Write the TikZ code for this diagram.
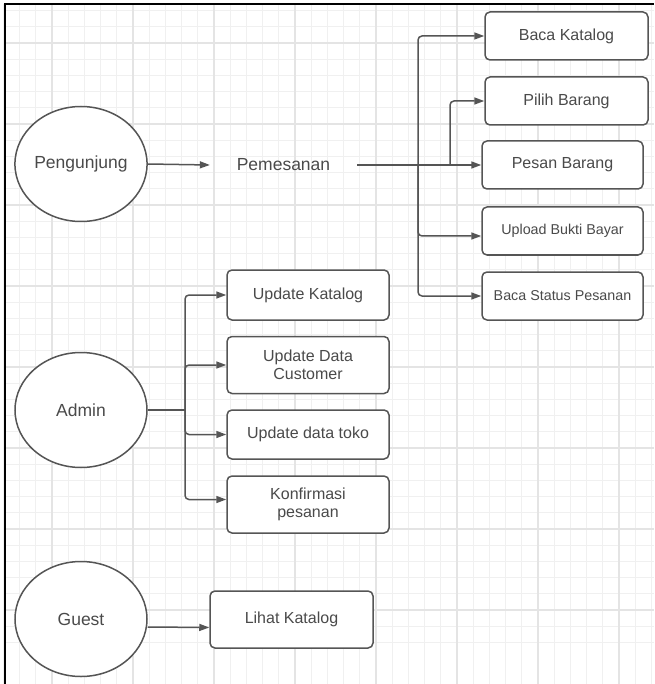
\documentclass[tikz,border=0pt]{standalone}
\usepackage{fontspec}
\setmainfont{Liberation Sans}
\usetikzlibrary{arrows.meta,shapes.geometric}
\definecolor{gridminor}{HTML}{F0F0F0}
\definecolor{gridmajor}{HTML}{E4E4E4}
\definecolor{linegray}{HTML}{555555}
\definecolor{textgray}{HTML}{4A4A4A}
\tikzset{
  actor/.style={ellipse, draw=linegray, line width=1.5pt, fill=white, minimum width=132pt, minimum height=115pt, inner sep=0pt, text=textgray, font=\fontsize{17.5}{20}\selectfont},
  procbox/.style={draw=linegray, line width=1.5pt, rounded corners=5pt, fill=white, inner sep=0pt, text=textgray, align=center, font=\fontsize{16}{18.5}\selectfont},
  smalltext/.style={font=\fontsize{14.3}{17}\selectfont},
  conn/.style={draw=linegray, line width=1.5pt, rounded corners=4pt},
  arr/.style={conn, -{Triangle[length=10pt,width=7pt]}},
}
\begin{document}
\begin{tikzpicture}[x=1pt,y=-1pt]
\useasboundingbox (0,0) rectangle (654,684);
\fill[white] (0,0) rectangle (654,684);
% grid
\foreach \k in {-3,...,37} {
  \draw[gridminor, line width=1pt] ({52+16.2*\k},4) -- ({52+16.2*\k},684);
  \draw[gridminor, line width=1pt] (5,{43+16.2*\k}) -- (654,{43+16.2*\k});
}
\foreach \k in {0,...,7} {
  \draw[gridmajor, line width=1.3pt] ({52+81*\k},4) -- ({52+81*\k},684);
  \draw[gridmajor, line width=1.3pt] (5,{43+81*\k}) -- (654,{43+81*\k});
}
% frame (top and left)
\draw[black, line width=2pt] (5,684) -- (5,4) -- (654,4);

% actors
\node[actor] (peng) at (81,164) {Pengunjung};
\node[actor] (admin) at (81,410) {Admin};
\node[actor] (guest) at (81,619) {Guest};

% Pemesanan
\node[text=textgray, font=\fontsize{17.5}{20}\selectfont, minimum width=147pt, inner sep=0pt] (pem) at (283.5,165) {Pemesanan};

% right column boxes
\node[procbox, minimum width=163pt, minimum height=48pt] (baca) at (566.5,36) {Baca Katalog};
\node[procbox, minimum width=163pt, minimum height=48pt] (pilih) at (566.5,101) {Pilih Barang};
\node[procbox, minimum width=161pt, minimum height=48pt] (pesan) at (562.5,165) {Pesan Barang};
\node[procbox, smalltext, minimum width=161pt, minimum height=48pt] (upload) at (562.5,231) {Upload Bukti Bayar};
\node[procbox, smalltext, minimum width=161pt, minimum height=48pt] (status) at (562.5,296) {Baca Status Pesanan};

% admin boxes
\node[procbox, minimum width=162pt, minimum height=50pt] (uk) at (308,295) {Update Katalog};
\node[procbox, minimum width=162pt, minimum height=57pt] (udc) at (308,365) {Update Data\\Customer};
\node[procbox, minimum width=162pt, minimum height=49pt] (udt) at (308,434.5) {Update data toko};
\node[procbox, minimum width=162pt, minimum height=57pt] (konf) at (308,504.5) {Konfirmasi\\pesanan};

% guest box
\node[procbox, minimum width=163pt, minimum height=57pt] (lihat) at (291.5,619.5) {Lihat Katalog};

% connectors: Pengunjung
\draw[arr] (peng.east) -- (pem.west);
\coordinate (t1) at (418,165);
\coordinate (t2) at (450,165);
\draw[arr] (pem.east) -- (pesan.west);
\draw[arr] (t1) |- (baca.west);
\draw[arr] (t2) |- (pilih.west);
\draw[arr] (t1) |- ([yshift=-5pt]upload.west);
\draw[arr] (t1) |- (status.west);

% connectors: Admin
\coordinate (a1) at (185,410);
\draw[conn] (admin.east) -- (a1);
\draw[arr] (a1) |- (uk.west);
\draw[arr] (a1) |- (udc.west);
\draw[arr] (a1) |- (udt.west);
\draw[arr] (a1) |- ([yshift=5pt]konf.west);

% connectors: Guest
\draw[arr] ([yshift=-8pt]guest.east) -- ([yshift=-8pt]lihat.west);
\end{tikzpicture}
\end{document}
